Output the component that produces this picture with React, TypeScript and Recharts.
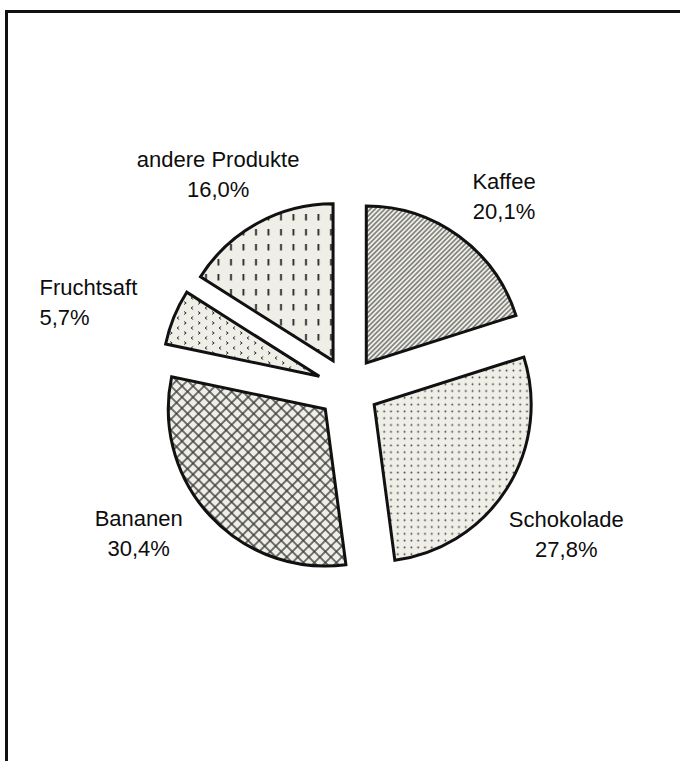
import { PieChart, Pie, Cell } from "recharts";

const categories = ["Kaffee", "Schokolade", "Bananen", "Fruchtsaft", "andere Produkte"];
const shares = [20.1, 27.8, 30.4, 5.7, 16.0];
const shareLabels = ["20,1%", "27,8%", "30,4%", "5,7%", "16,0%"];

const data = categories.map((name, i) => ({ name, value: shares[i], label: shareLabels[i] }));

const W = 680;
const H = 761;
const CX = 348;
const CY = 388;
const R = 157;
const EXPLODE = 31;
const BG = "#efeee7";
const INK = "#3a3a3a";
const TEXT = "#0d0d0d";
const FONT_SIZE = 22;
const patternIds = ["p-diag", "p-dots", "p-cross", "p-chev", "p-dash"];

// label placement: clockwise angle tweak (deg), distance from pie centre, alignment
const labelAngleNudge = [3, 1.5, 8, -4, -2.5];
const labelRadius = [247, 263, 255, 276, 250];
const labelLeftAligned = [false, false, false, true, false];

const total = shares.reduce((a, b) => a + b, 0);
const midAngles = shares.map((v, i) => {
  const before = shares.slice(0, i).reduce((a, b) => a + b, 0);
  return ((before + v / 2) / total) * 360;
});

const RAD = Math.PI / 180;

function renderLabel(props: any) {
  const { index, midAngle, cx, cy } = props;
  const a = (90 - midAngle + labelAngleNudge[index]) * RAD;
  const r = labelRadius[index];
  let x = cx + r * Math.sin(a);
  const y = cy - r * Math.cos(a);
  const left = labelLeftAligned[index];
  if (left) x -= categories[index].length * FONT_SIZE * 0.21;
  return (
    <text
      key={`lbl-${index}`}
      x={x}
      y={y}
      textAnchor={left ? "start" : "middle"}
      fill={TEXT}
      fontFamily="'Liberation Sans', Arial, sans-serif"
      fontSize={FONT_SIZE}
    >
      <tspan x={x} y={y - 15} dominantBaseline="central">
        {categories[index]}
      </tspan>
      <tspan x={x} y={y + 15} dominantBaseline="central">
        {shareLabels[index]}
      </tspan>
    </text>
  );
}

export default function App() {
  return (
    <div
      style={{
        position: "fixed",
        left: 0,
        top: 0,
        width: W,
        height: H,
        overflow: "hidden",
        background: "#fff",
      }}
    >
      <div
        style={{
          position: "absolute",
          left: 5,
          top: 10,
          width: 800,
          height: 900,
          borderTop: "3px solid #111",
          borderLeft: "3px solid #111",
        }}
      />
      <div style={{ position: "absolute", left: 0, top: 0 }}>
        <PieChart width={W} height={H} margin={{ top: 0, right: 0, bottom: 0, left: 0 }}>
          <defs>
            <pattern id="p-diag" patternUnits="userSpaceOnUse" width={3.4} height={10} patternTransform="rotate(45)">
              <rect width={3.4} height={10} fill={BG} />
              <line x1={1.7} y1={0} x2={1.7} y2={10} stroke="#4a4a4a" strokeWidth={1.1} />
            </pattern>
            <pattern id="p-dots" patternUnits="userSpaceOnUse" width={6.8} height={6.8}>
              <rect width={6.8} height={6.8} fill={BG} />
              <circle cx={3.4} cy={3.4} r={0.9} fill={INK} />
            </pattern>
            <pattern id="p-cross" patternUnits="userSpaceOnUse" width={7.8} height={7.8} patternTransform="rotate(45)">
              <rect width={7.8} height={7.8} fill={BG} />
              <line x1={0} y1={3.9} x2={7.8} y2={3.9} stroke={INK} strokeWidth={1.4} />
              <line x1={3.9} y1={0} x2={3.9} y2={7.8} stroke={INK} strokeWidth={1.4} />
            </pattern>
            <pattern id="p-chev" patternUnits="userSpaceOnUse" width={14} height={10}>
              <rect width={14} height={10} fill={BG} />
              <path d="M2 1.5 L4.2 3 L2 4.5" fill="none" stroke={INK} strokeWidth={1} />
              <path d="M11.2 6.5 L9 8 L11.2 9.5" fill="none" stroke={INK} strokeWidth={1} />
            </pattern>
            <pattern id="p-dash" patternUnits="userSpaceOnUse" width={12.5} height={15}>
              <rect width={12.5} height={15} fill={BG} />
              <line x1={6} y1={4} x2={6} y2={10.5} stroke="#222" strokeWidth={1.8} />
            </pattern>
          </defs>
          {data.map((_, k) => {
            const a = midAngles[k] * RAD;
            return (
              <Pie
                key={`pie-${k}`}
                data={data}
                dataKey="value"
                nameKey="name"
                cx={CX + EXPLODE * Math.sin(a)}
                cy={CY - EXPLODE * Math.cos(a)}
                innerRadius={0}
                outerRadius={R}
                startAngle={90}
                endAngle={-270}
                isAnimationActive={false}
                labelLine={false}
                label={false}
              >
                {data.map((d, i) => (
                  <Cell
                    key={d.name}
                    fill={i === k ? `url(#${patternIds[i]})` : "none"}
                    stroke={i === k ? "#111" : "none"}
                    strokeWidth={3}
                  />
                ))}
              </Pie>
            );
          })}
          <Pie
            data={data}
            dataKey="value"
            nameKey="name"
            cx={CX}
            cy={CY}
            innerRadius={0}
            outerRadius={R}
            startAngle={90}
            endAngle={-270}
            isAnimationActive={false}
            labelLine={false}
            label={renderLabel}
          >
            {data.map((d) => (
              <Cell key={d.name} fill="none" stroke="none" />
            ))}
          </Pie>
        </PieChart>
      </div>
    </div>
  );
}
